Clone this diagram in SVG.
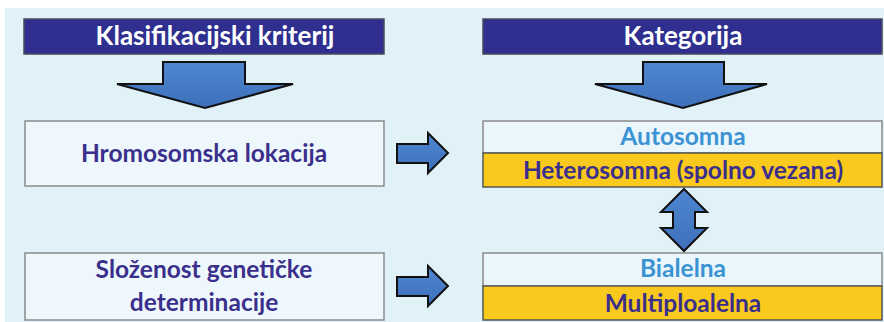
<svg xmlns="http://www.w3.org/2000/svg" width="884" height="322" viewBox="0 0 884 322">
  <defs>
    <linearGradient id="arrowFill" x1="0" y1="0" x2="0" y2="1">
      <stop offset="0" stop-color="#4f86d0"/>
      <stop offset="1" stop-color="#3e70bb"/>
    </linearGradient>
  </defs>
  <style>
    .hdr { fill: #2e2f8e; stroke: #4a4a5a; stroke-width: 1.5; }
    .hdr-text { fill: #ffffff; font-family: Lato, "Liberation Sans", sans-serif; font-weight: bold; font-size: 26px; text-anchor: middle; }
    .crit { fill: #eef8fc; stroke: #8a8a8a; stroke-width: 1.5; }
    .crit-text { fill: #3b2f8c; font-family: Lato, "Liberation Sans", sans-serif; font-weight: bold; font-size: 24.5px; text-anchor: middle; }
    .cat-top { fill: #eaf6fb; stroke: #8a8a8a; stroke-width: 1.5; }
    .cat-bot { fill: #f9c91d; stroke: #555555; stroke-width: 1.5; }
    .cat-light { fill: #3b93d3; font-family: Lato, "Liberation Sans", sans-serif; font-weight: bold; font-size: 24.5px; text-anchor: middle; }
    .cat-dark { fill: #3b2f8c; font-family: Lato, "Liberation Sans", sans-serif; font-weight: bold; font-size: 24.5px; text-anchor: middle; }
    .arrow { fill: url(#arrowFill); stroke: #111111; stroke-width: 2; stroke-linejoin: miter; }
  </style>

  <!-- panel background -->
  <rect x="0" y="0" width="884" height="322" fill="#ffffff"/>
  <rect x="5" y="8" width="879" height="314" fill="#e0f1f8"/>

  <!-- column headers -->
  <g id="header-criterion">
    <rect class="hdr" x="24" y="19" width="360" height="35"/>
    <text class="hdr-text" x="215" y="45">Klasifikacijski kriterij</text>
  </g>
  <g id="header-category">
    <rect class="hdr" x="483" y="19" width="399" height="35"/>
    <text class="hdr-text" x="683" y="45">Kategorija</text>
  </g>

  <!-- criteria -->
  <g id="criterion-location">
    <rect class="crit" x="25" y="121" width="359" height="65"/>
    <text class="crit-text" x="204" y="162">Hromosomska lokacija</text>
  </g>
  <g id="criterion-complexity">
    <rect class="crit" x="25" y="253" width="359" height="67"/>
    <text class="crit-text" x="204" y="278">Složenost genetičke</text>
    <text class="crit-text" x="204" y="311">determinacije</text>
  </g>

  <!-- categories -->
  <g id="category-location">
    <rect class="cat-top" x="483" y="121" width="399" height="32"/>
    <rect class="cat-bot" x="483" y="153" width="399" height="34"/>
    <text class="cat-light" x="683" y="145">Autosomna</text>
    <text class="cat-dark" x="683" y="179">Heterosomna (spolno vezana)</text>
  </g>
  <g id="category-complexity">
    <rect class="cat-top" x="483" y="253" width="399" height="33"/>
    <rect class="cat-bot" x="483" y="286" width="399" height="34"/>
    <text class="cat-light" x="683" y="277">Bialelna</text>
    <text class="cat-dark" x="683" y="312">Multiploalelna</text>
  </g>

  <!-- connectors -->
  <g id="connectors">
    <polygon class="arrow" points="163,62 245,62 245,84 293,84 205,108 117,84 163,84"/>
    <polygon class="arrow" points="643,62 724,62 724,84 767,84 683,108 595,84 643,84"/>
    <polygon class="arrow" points="397,144 428,144 428,133 448,153 428,173 428,163 397,163"/>
    <polygon class="arrow" points="397,277 428,277 428,266 448,286 428,306 428,296 397,296"/>
    <polygon class="arrow" points="684,189 707,212 695,212 695,228 707,228 684,251 661,228 673,228 673,212 661,212"/>
  </g>
</svg>
